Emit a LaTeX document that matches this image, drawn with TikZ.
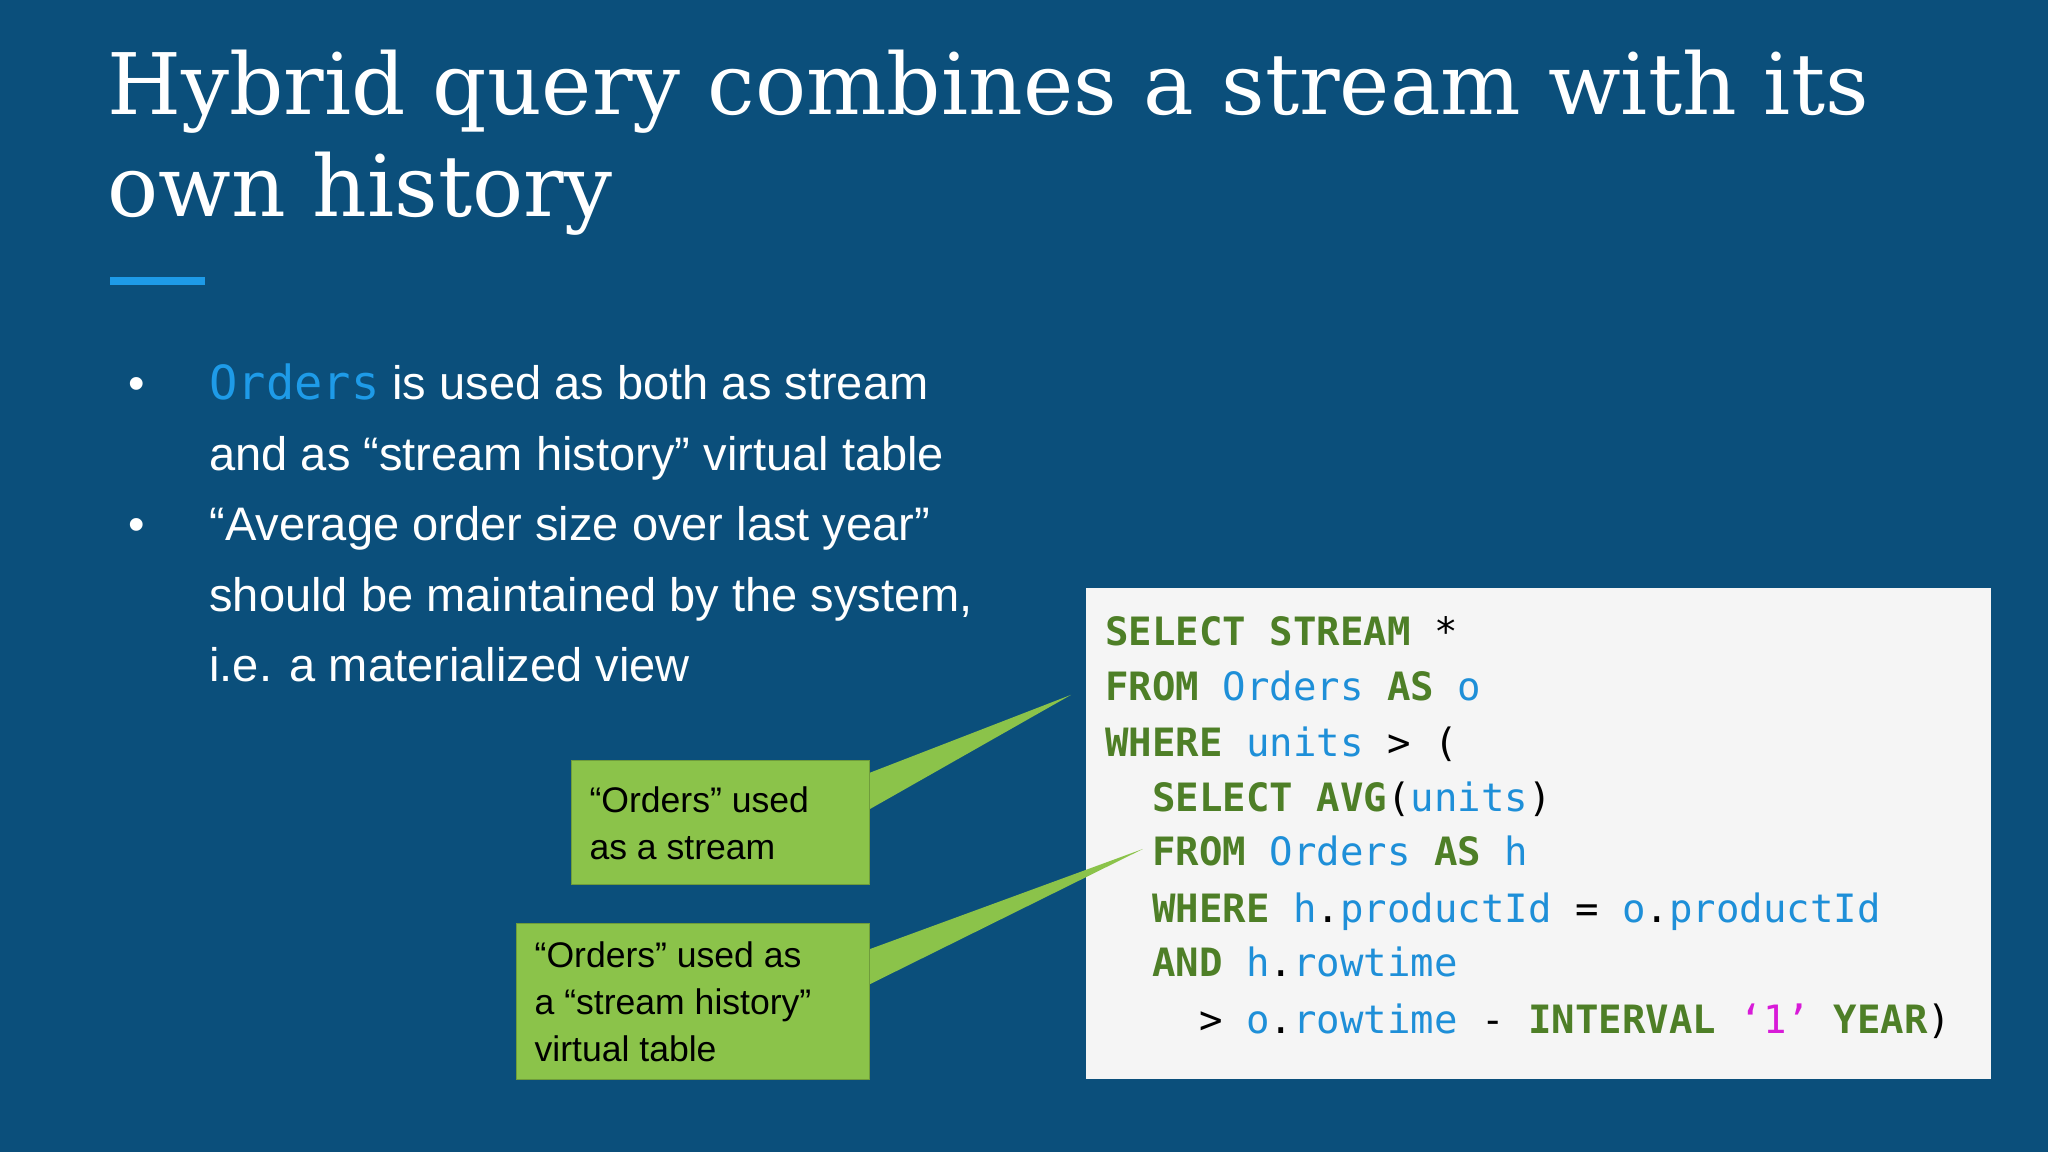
\documentclass[tikz,border=0pt]{standalone}
\usepackage{fontspec}
\setmainfont{Liberation Sans}
\newfontfamily\titlefont{DejaVu Serif}
\newfontfamily\codefont{DejaVu Sans Mono}
\definecolor{bg}{HTML}{0B4F7B}
\definecolor{kw}{HTML}{4E7F27}
\definecolor{id}{HTML}{1E8FD8}
\definecolor{mg}{HTML}{D81BD8}
\definecolor{gr}{HTML}{8BC34A}
\definecolor{acc}{HTML}{1E9BE8}
\newcommand{\K}[1]{{\bfseries\color{kw}#1}}
\newcommand{\I}[1]{{\color{id}#1}}
\begin{document}
\begin{tikzpicture}[x=0.02cm,y=-0.02cm,
  ttl/.style={anchor=base west,inner sep=0,font=\titlefont\fontsize{37}{40}\selectfont,text=white},
  bul/.style={anchor=base west,inner sep=0,font=\fontsize{20.5}{24}\selectfont,text=white},
  code/.style={anchor=base west,inner sep=0,font=\codefont\fontsize{17}{20}\selectfont,text=black},
  call/.style={anchor=base west,inner sep=0,font=\fontsize{15.5}{18}\selectfont,text=black}]
\fill[bg] (0,0) rectangle (1568,882);
\useasboundingbox (0,0) rectangle (1568,882);
\node[ttl] (t1) at (82,88) {Hybrid query combines a stream with its};
\node[ttl] (t2) at (82,166) {own history};
\fill[acc] (84,212) rectangle (157,218);
\node[bul] (b1) at (98,306) {\textbullet};
\node[bul] (l1) at (160,306) {{\codefont\color{acc}Orders} is used as both as stream};
\node[bul] (l2) at (160,360) {and as “stream history” virtual table};
\node[bul] (b2) at (98,414) {\textbullet};
\node[bul] (l3) at (160,414) {“Average order size over last year”};
\node[bul] (l4) at (160,468) {should be maintained by the system,};
\node[bul] (l5) at (160,522) {i.e. a materialized view};
\node[fill=white!96!black,minimum width=693*0.02cm,minimum height=376*0.02cm,anchor=north west,inner sep=0] (box) at (831,450) {};
\node[code] (c1) at (846,494) {\K{SELECT STREAM} *};
\node[code] (c2) at (846,536) {\K{FROM} \I{Orders} \K{AS} \I{o}};
\node[code] (c3) at (846,579) {\K{WHERE} \I{units} > (};
\node[code] (c4) at (846,621) {\ \ \K{SELECT AVG}(\I{units})};
\node[code] (c5) at (846,663) {\ \ \K{FROM} \I{Orders} \K{AS} \I{h}};
\node[code] (c6) at (846,706) {\ \ \K{WHERE} \I{h}.\I{productId} = \I{o}.\I{productId}};
\node[code] (c7) at (846,748) {\ \ \K{AND} \I{h}.\I{rowtime}};
\node[code] (c8) at (846,791) {\ \ \ \ > \I{o}.\I{rowtime} - \K{INTERVAL} {\color{mg}‘1’} \K{YEAR})};
\coordinate (p1) at (820,532);
\coordinate (p2) at (875,650);
\fill[gr] (665,592) -- (p1) -- (665,620) -- cycle;
\fill[gr] (665,727) -- (p2) -- (665,754) -- cycle;
\node[fill=gr,draw=gr!80!black,anchor=north west,minimum width=228*0.02cm,minimum height=95*0.02cm,inner sep=0] (k1) at (437,582) {};
\node[fill=gr,draw=gr!80!black,anchor=north west,minimum width=270*0.02cm,minimum height=119*0.02cm,inner sep=0] (k2) at (395,707) {};
\node[call] (s1) at (451,622) {“Orders” used};
\node[call] (s2) at (451,658) {as a stream};
\node[call] (s3) at (409,741) {“Orders” used as};
\node[call] (s4) at (409,777) {a “stream history”};
\node[call] (s5) at (409,813) {virtual table};
\end{tikzpicture}
\end{document}
